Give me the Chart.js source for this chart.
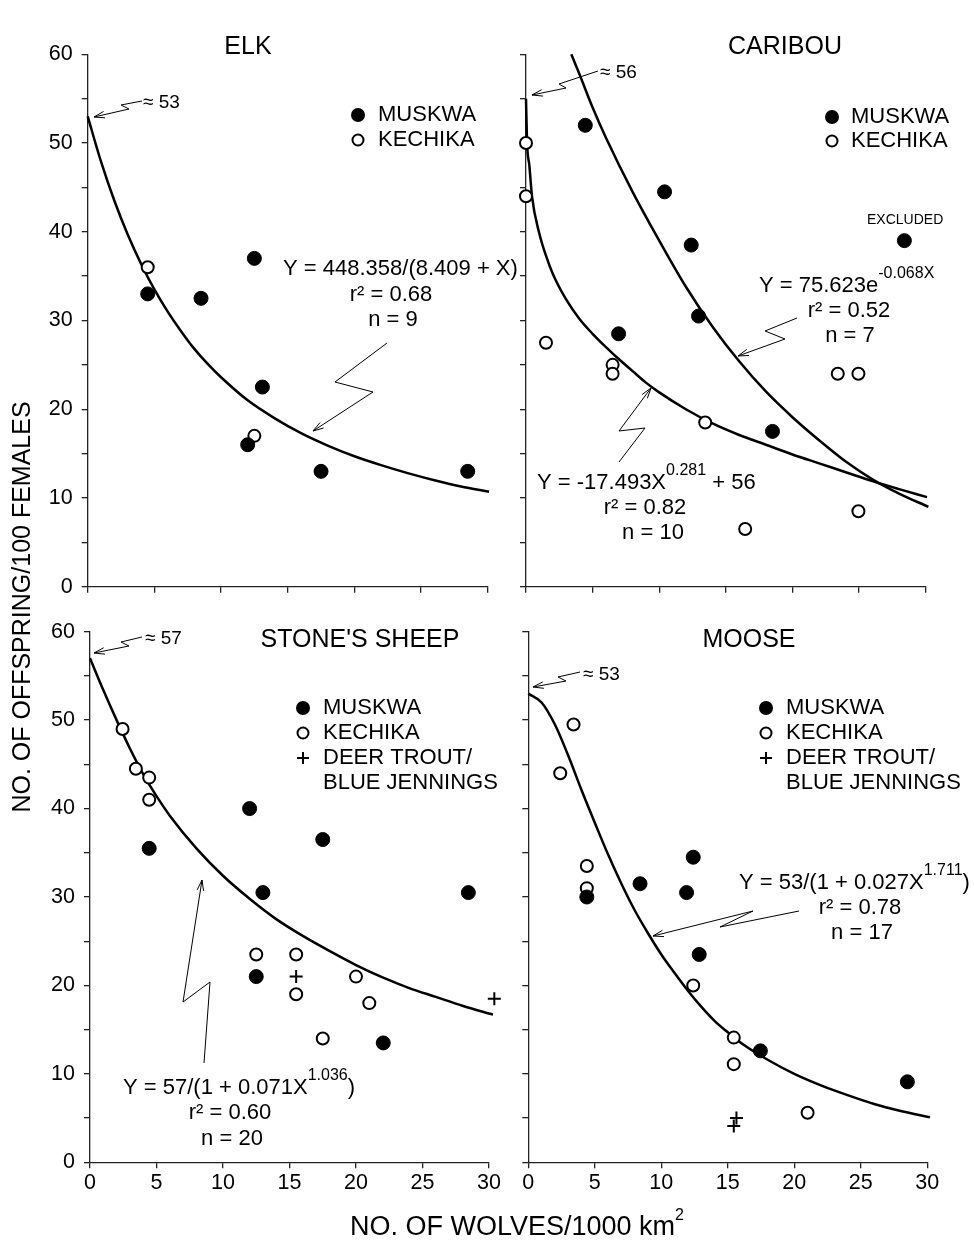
<!DOCTYPE html>
<html>
<head>
<meta charset="utf-8">
<script src="https://cdn.jsdelivr.net/npm/chart.js@4.4.1/dist/chart.umd.min.js"></script>
<style>
  body { margin: 0; background: #fff; }
  #wrap { position: relative; width: 974px; height: 1243px; }
  canvas { position: absolute; left: 0; top: 0; }
</style>
</head>
<body>
<div id="wrap">
  <canvas id="elk" width="974" height="1243"></canvas>
  <canvas id="caribou" width="974" height="1243"></canvas>
  <canvas id="sheep" width="974" height="1243"></canvas>
  <canvas id="moose" width="974" height="1243"></canvas>
</div>
<script>
// DATA
const xTicks = [0, 5, 10, 15, 20, 25, 30];
const yTicks = [0, 10, 20, 30, 40, 50, 60];

// elk
const elkMuskwaX = [4.5, 8.5, 12.5, 13.1, 12.0, 17.5, 28.5];
const elkMuskwaY = [33, 32.5, 37, 22.5, 16, 13, 13];
const elkKechikaX = [4.5, 12.5];
const elkKechikaY = [36, 17];
const elkCurveX = [0, 1, 2, 3, 4, 5, 6, 7, 8, 9, 10, 12, 14, 16, 18, 20, 22, 24, 26, 28, 30.1];
const elkCurveY = [53, 47.9, 43.5, 39.7, 36.4, 33.5, 31.0, 28.8, 26.8, 25.1, 23.6, 21.0, 19.0, 17.3, 15.9, 14.7, 13.7, 12.8, 12.0, 11.3, 10.7];

// caribou
const caribouMuskwaX = [8.4, 4.45, 10.4, 12.4, 12.95, 6.95, 18.5];
const caribouMuskwaY = [64.4, 52, 44.5, 38.5, 30.5, 28.5, 17.5];
const caribouExcludedX = [28.4];
const caribouExcludedY = [39];
const caribouKechikaX = [0, 0, 1.5, 6.5, 6.5, 23.4, 24.95, 13.45, 24.95, 16.45];
const caribouKechikaY = [50, 44, 27.5, 25, 24, 24, 24, 18.5, 8.5, 6.5];
const caribouExpX = [3.4, 4, 5, 6, 8, 10, 12, 14, 16, 18, 20, 22, 24, 26, 28, 30.2];
const caribouExpY = [60, 57.8, 54.0, 50.6, 44.5, 39.0, 33.8, 29.3, 25.4, 22.0, 19.1, 16.5, 14.1, 12.1, 10.5, 9.0];
const caribouPowX = [0, 0.08, 0.25, 0.45, 1, 1.5, 2, 3, 4, 5, 6, 7, 8, 9, 10, 12, 14, 16, 18, 20, 22, 24, 26, 28, 30.1];
const caribouPowY = [55, 50, 47.5, 44, 39.8, 37.3, 35.3, 32.4, 30.2, 28.5, 27.0, 25.6, 24.3, 23.0, 21.9, 20.0, 18.4, 17.1, 16.0, 14.9, 13.9, 12.9, 11.9, 11.0, 10.1];

// stone's sheep
const sheepMuskwaX = [4.45, 12.0, 17.5, 13.0, 28.45, 12.5, 22.05];
const sheepMuskwaY = [35.5, 40, 36.5, 30.5, 30.5, 21, 13.5];
const sheepKechikaX = [2.45, 3.45, 4.45, 4.45, 12.5, 15.5, 15.5, 20.0, 21.0, 17.5];
const sheepKechikaY = [49, 44.5, 43.5, 41, 23.5, 23.5, 19, 21, 18, 14];
const sheepDeerX = [15.5, 30.4];
const sheepDeerY = [21, 18.5];
const sheepCurveX = [0, 1, 2, 3, 4, 5, 6, 8, 10, 12, 14, 16, 18, 20, 22, 24, 26, 28, 30.3];
const sheepCurveY = [57, 53.4, 50.0, 46.8, 43.9, 41.4, 39.2, 35.5, 32.4, 29.8, 27.5, 25.6, 23.9, 22.3, 20.9, 19.7, 18.7, 17.7, 16.7];

// moose
const mooseMuskwaX = [4.4, 8.4, 11.9, 12.4, 12.85, 17.45, 28.5];
const mooseMuskwaY = [30, 31.5, 30.5, 34.5, 23.5, 12.6, 9.1];
const mooseKechikaX = [3.4, 2.4, 4.4, 4.4, 12.4, 15.45, 15.45, 21.0];
const mooseKechikaY = [49.5, 44, 33.5, 31, 20, 14.1, 11.1, 5.6];
const mooseDeerX = [15.65, 15.45];
const mooseDeerY = [5.0, 4.1];
const mooseCurveX = [0, 1, 2, 3, 4, 5, 6, 7, 8, 9, 10, 11, 12, 13, 14, 15, 16, 18, 20, 22, 24, 26, 28, 30.2];
const mooseCurveY = [53, 52.0, 49.5, 46.0, 42.1, 38.4, 34.8, 31.5, 28.5, 25.9, 23.5, 21.4, 19.4, 17.6, 16.0, 14.7, 13.5, 11.6, 10.0, 8.7, 7.6, 6.6, 5.8, 5.1];

const FONT = '"Liberation Sans", Arial, Helvetica, sans-serif';
Chart.defaults.font.family = FONT;
Chart.defaults.color = '#000';

function pts(xs, ys) {
  return xs.map((x, i) => ({ x: x, y: ys[i] }));
}

function filledSet(xs, ys) {
  return { data: pts(xs, ys), pointRadius: 7, pointBackgroundColor: '#000', pointBorderColor: '#000', pointBorderWidth: 1, order: 1, clip: false };
}
function openSet(xs, ys) {
  return { data: pts(xs, ys), pointRadius: 6, pointBackgroundColor: '#fff', pointBorderColor: '#000', pointBorderWidth: 2, order: 1, clip: false };
}
function plusSet(xs, ys) {
  return { data: pts(xs, ys), pointStyle: 'cross', pointRadius: 6.5, pointBorderColor: '#000', pointBorderWidth: 2, order: 1, clip: false };
}
function curveSet(xs, ys) {
  return { data: pts(xs, ys), showLine: true, fill: false, pointRadius: 0, borderColor: '#000', borderWidth: 2.5, cubicInterpolationMode: 'monotone', order: 2, clip: false };
}

// annotation text / arrows / keys, in page pixels
const NOTES = {
  elk: {
    texts: [
      { s: 'ELK', x: 248, y: 47, size: 25, align: 'center' },
      { s: '≈ 53', x: 143, y: 103, size: 19 },
      { s: 'Y = 448.358/(8.409 + X)', x: 283, y: 269 },
      { s: 'r² = 0.68', x: 391, y: 295, align: 'center' },
      { s: 'n = 9', x: 393, y: 320, align: 'center' }
    ],
    keys: [
      { kind: 'filled', x: 358, y: 115, lx: 378, label: 'MUSKWA' },
      { kind: 'open', x: 358, y: 140, lx: 378, label: 'KECHIKA' }
    ],
    arrows: [
      [[142, 101], [121, 105], [129, 109], [94, 117]],
      [[387, 343], [335, 382], [373, 392], [313, 431]]
    ]
  },
  caribou: {
    texts: [
      { s: 'CARIBOU', x: 785, y: 47, size: 25, align: 'center' },
      { s: '≈ 56', x: 600, y: 73, size: 19 },
      { s: 'EXCLUDED', x: 867, y: 220, size: 14 },
      { parts: [{ s: 'Y = 75.623e' }, { s: '-0.068X', sup: true }], x: 759, y: 286 },
      { s: 'r² = 0.52', x: 849, y: 311, align: 'center' },
      { s: 'n = 7', x: 850, y: 336, align: 'center' },
      { parts: [{ s: 'Y = -17.493X' }, { s: '0.281', sup: true }, { s: ' + 56' }], x: 537, y: 483 },
      { s: 'r² = 0.82', x: 645, y: 508, align: 'center' },
      { s: 'n = 10', x: 653, y: 533, align: 'center' }
    ],
    keys: [
      { kind: 'filled', x: 832, y: 117, lx: 851, label: 'MUSKWA' },
      { kind: 'open', x: 832, y: 141, lx: 851, label: 'KECHIKA' }
    ],
    arrows: [
      [[598, 71], [559, 84], [566, 88], [532, 95]],
      [[797, 318], [765, 331], [785, 339], [738, 356]],
      [[619, 462], [645, 428], [619, 431], [651, 388]]
    ]
  },
  sheep: {
    texts: [
      { s: "STONE'S SHEEP", x: 360, y: 640, size: 25, align: 'center' },
      { s: '≈ 57', x: 145, y: 639, size: 19 },
      { s: 'BLUE JENNINGS', x: 323, y: 783 },
      { parts: [{ s: 'Y = 57/(1 + 0.071X' }, { s: '1.036', sup: true }, { s: ')' }], x: 123, y: 1088 },
      { s: 'r² = 0.60', x: 230, y: 1113, align: 'center' },
      { s: 'n = 20', x: 232, y: 1139, align: 'center' },
      { parts: [{ s: 'NO. OF WOLVES/1000 km' }, { s: '2', sup: true }], x: 350, y: 1228, size: 27 },
      { s: 'NO. OF OFFSPRING/100 FEMALES', x: 23, y: 607, size: 25, align: 'center', rotate: true }
    ],
    keys: [
      { kind: 'filled', x: 303, y: 708, lx: 323, label: 'MUSKWA' },
      { kind: 'open', x: 303, y: 733, lx: 323, label: 'KECHIKA' },
      { kind: 'plus', x: 303, y: 758, lx: 323, label: 'DEER TROUT/' }
    ],
    arrows: [
      [[142, 637], [121, 642], [129, 646], [94, 653]],
      [[204, 1063], [210, 982], [183, 1002], [202, 880]]
    ]
  },
  moose: {
    texts: [
      { s: 'MOOSE', x: 749, y: 640, size: 25, align: 'center' },
      { s: '≈ 53', x: 583, y: 675, size: 19 },
      { s: 'BLUE JENNINGS', x: 786, y: 783 },
      { parts: [{ s: 'Y = 53/(1 + 0.027X' }, { s: '1.711', sup: true }, { s: ')' }], x: 739, y: 883 },
      { s: 'r² = 0.78', x: 860, y: 908, align: 'center' },
      { s: 'n = 17', x: 862, y: 933, align: 'center' }
    ],
    keys: [
      { kind: 'filled', x: 766, y: 708, lx: 786, label: 'MUSKWA' },
      { kind: 'open', x: 766, y: 733, lx: 786, label: 'KECHIKA' },
      { kind: 'plus', x: 766, y: 758, lx: 786, label: 'DEER TROUT/' }
    ],
    arrows: [
      [[580, 672], [558, 677], [566, 681], [533, 687]],
      [[799, 911], [720, 927], [753, 911], [653, 936]]
    ]
  }
};

function fontOf(size) {
  return size + 'px ' + FONT;
}

function drawRich(ctx, t) {
  const size = t.size || 22;
  const supSize = 16;
  const parts = t.parts || [{ s: t.s }];
  let w = 0;
  parts.forEach(p => {
    ctx.font = fontOf(p.sup ? supSize : size);
    p.w = ctx.measureText(p.s).width;
    w += p.w;
  });
  ctx.save();
  ctx.textBaseline = 'middle';
  ctx.textAlign = 'left';
  let x = t.x, y = t.y;
  if (t.rotate) {
    ctx.translate(t.x, t.y);
    ctx.rotate(-Math.PI / 2);
    x = 0; y = 0;
  }
  if (t.align === 'center') x -= w / 2;
  parts.forEach(p => {
    ctx.font = fontOf(p.sup ? supSize : size);
    ctx.fillText(p.s, x, y + (p.sup ? -12.5 : 0));
    x += p.w;
  });
  ctx.restore();
}

function drawBolt(ctx, p) {
  ctx.lineWidth = 1;
  ctx.beginPath();
  ctx.moveTo(p[0][0], p[0][1]);
  for (let i = 1; i < p.length; i++) ctx.lineTo(p[i][0], p[i][1]);
  ctx.stroke();
  const a = p[p.length - 2], b = p[p.length - 1];
  const ang = Math.atan2(b[1] - a[1], b[0] - a[0]);
  const L = 11;
  ctx.beginPath();
  ctx.moveTo(b[0] - L * Math.cos(ang - 0.3), b[1] - L * Math.sin(ang - 0.3));
  ctx.lineTo(b[0], b[1]);
  ctx.lineTo(b[0] - L * Math.cos(ang + 0.3), b[1] - L * Math.sin(ang + 0.3));
  ctx.stroke();
}

function drawKey(ctx, k) {
  ctx.save();
  if (k.kind === 'filled') {
    ctx.beginPath();
    ctx.arc(k.x, k.y, 7, 0, 2 * Math.PI);
    ctx.fill();
  } else if (k.kind === 'open') {
    ctx.lineWidth = 2;
    ctx.beginPath();
    ctx.arc(k.x, k.y, 5.5, 0, 2 * Math.PI);
    ctx.stroke();
  } else {
    ctx.lineWidth = 2;
    ctx.beginPath();
    ctx.moveTo(k.x - 6, k.y); ctx.lineTo(k.x + 6, k.y);
    ctx.moveTo(k.x, k.y - 6); ctx.lineTo(k.x, k.y + 6);
    ctx.stroke();
  }
  ctx.restore();
  drawRich(ctx, { s: k.label, x: k.lx, y: k.y });
}

const notesPlugin = {
  id: 'panelNotes',
  afterDraw(chart) {
    const n = NOTES[chart.canvas.id];
    if (!n) return;
    const ctx = chart.ctx;
    ctx.save();
    ctx.fillStyle = '#000';
    ctx.strokeStyle = '#000';
    n.arrows.forEach(a => drawBolt(ctx, a));
    n.keys.forEach(k => drawKey(ctx, k));
    n.texts.forEach(t => drawRich(ctx, t));
    ctx.restore();
  }
};

function makePanel(id, datasets, area, showX, showY) {
  const W = 974, H = 1243;
  return new Chart(document.getElementById(id), {
    type: 'scatter',
    data: { datasets: datasets },
    options: {
      responsive: false,
      animation: false,
      devicePixelRatio: 1,
      events: [],
      layout: {
        autoPadding: false,
        padding: { left: area.left - 40, right: W - area.right, top: area.top, bottom: H - area.bottom - 30 }
      },
      plugins: { legend: { display: false }, tooltip: { enabled: false } },
      scales: {
        x: {
          type: 'linear', min: 0, max: 30,
          afterFit: s => { s.height = 30; },
          border: { color: '#222', width: 1.3 },
          grid: { drawOnChartArea: false, drawTicks: true, tickLength: 6, color: '#222', lineWidth: 1.3 },
          ticks: {
            stepSize: 5, autoSkip: false, maxRotation: 0, padding: 2,
            font: { size: 21.5 }, color: '#000',
            callback: v => (showX && xTicks.includes(v)) ? String(v) : ''
          }
        },
        y: {
          type: 'linear', min: 0, max: 60,
          afterFit: s => { s.width = 40; },
          border: { color: '#222', width: 1.3 },
          grid: { drawOnChartArea: false, drawTicks: true, tickLength: 6, color: '#222', lineWidth: 1.3 },
          ticks: {
            stepSize: 5, autoSkip: false, padding: 9,
            font: { size: 21.5 }, color: '#000',
            callback: v => (showY && yTicks.includes(v)) ? String(v) : ''
          }
        }
      }
    },
    plugins: [notesPlugin]
  });
}

makePanel('elk', [
  filledSet(elkMuskwaX, elkMuskwaY),
  openSet(elkKechikaX, elkKechikaY),
  curveSet(elkCurveX, elkCurveY)
], { left: 87.7, right: 487.7, top: 54.3, bottom: 586.7 }, false, true);

makePanel('caribou', [
  filledSet(caribouMuskwaX, caribouMuskwaY),
  filledSet(caribouExcludedX, caribouExcludedY),
  openSet(caribouKechikaX, caribouKechikaY),
  curveSet(caribouExpX, caribouExpY),
  curveSet(caribouPowX, caribouPowY)
], { left: 526, right: 925.7, top: 54.3, bottom: 586.7 }, false, false);

makePanel('sheep', [
  filledSet(sheepMuskwaX, sheepMuskwaY),
  openSet(sheepKechikaX, sheepKechikaY),
  plusSet(sheepDeerX, sheepDeerY),
  curveSet(sheepCurveX, sheepCurveY)
], { left: 90, right: 489, top: 631.7, bottom: 1162.3 }, true, true);

makePanel('moose', [
  filledSet(mooseMuskwaX, mooseMuskwaY),
  openSet(mooseKechikaX, mooseKechikaY),
  plusSet(mooseDeerX, mooseDeerY),
  curveSet(mooseCurveX, mooseCurveY)
], { left: 528.3, right: 927.3, top: 631.7, bottom: 1162.3 }, true, false);
</script>
</body>
</html>
